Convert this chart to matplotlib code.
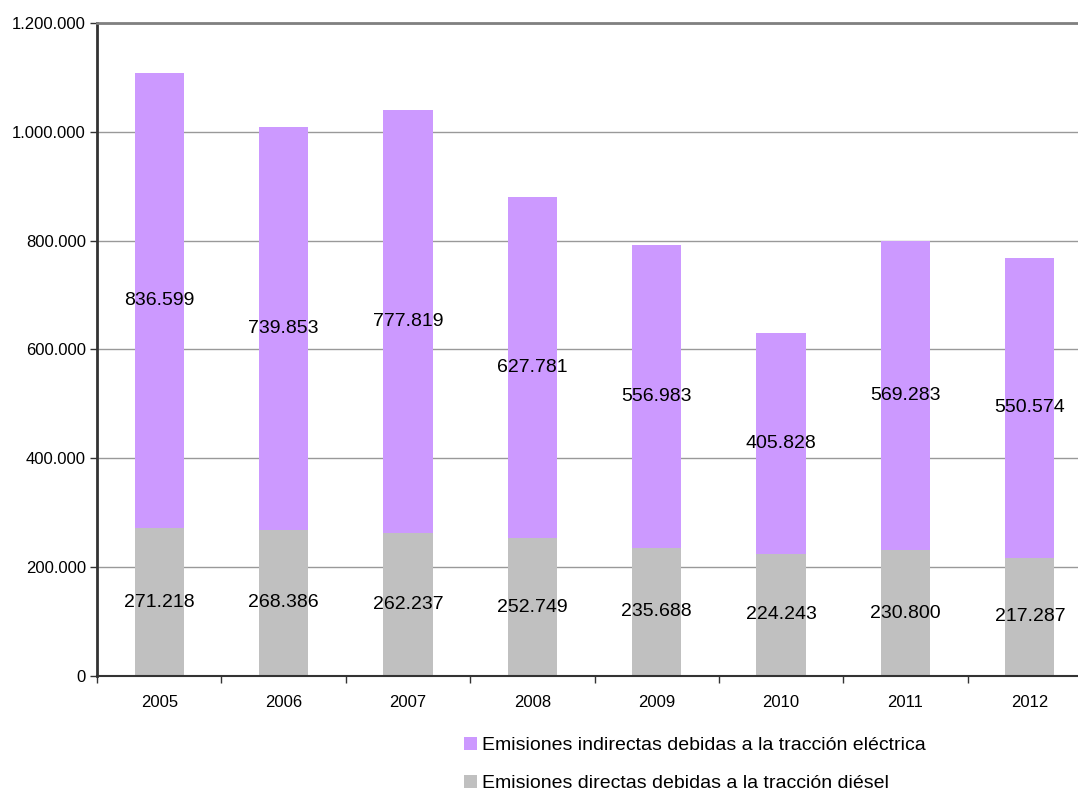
import matplotlib
matplotlib.use("Agg")
import matplotlib.pyplot as plt
from matplotlib.ticker import FuncFormatter, FixedLocator
import numpy as np

plt.rcParams['font.family'] = ['Liberation Sans', 'DejaVu Sans']

years = ['2005', '2006', '2007', '2008', '2009', '2010', '2011', '2012']
directas = [271218, 268386, 262237, 252749, 235688, 224243, 230800, 217287]
indirectas = [836599, 739853, 777819, 627781, 556983, 405828, 569283, 550574]

label_indirectas = 'Emisiones indirectas debidas a la tracción eléctrica'
label_directas = 'Emisiones directas debidas a la tracción diésel'

color_indirectas = '#CC99FF'
color_directas = '#C0C0C0'

W, H = 1078, 791
fig = plt.figure(figsize=(W / 100, H / 100), dpi=100)
ax = fig.add_axes([97 / W, 115 / H, 995 / W, 653 / H])

x = np.arange(len(years))
bw = 0.395
b1 = ax.bar(x, directas, width=bw, color=color_directas, label=label_directas, zorder=2)
b2 = ax.bar(x, indirectas, width=bw, bottom=directas, color=color_indirectas,
            label=label_indirectas, zorder=2)

def fmt(v):
    return f"{v:,.0f}".replace(',', '.')

for xi, d, i in zip(x, directas, indirectas):
    ax.text(xi, d / 2, fmt(d), ha='center', va='center', fontsize=14, zorder=3)
    ax.text(xi, d + i / 2, fmt(i), ha='center', va='center', fontsize=14, zorder=3)

ax.set_xlim(-0.5, len(years) - 0.5)
ax.set_ylim(0, 1200000)
ax.set_yticks(np.arange(0, 1200001, 200000))
ax.yaxis.set_major_formatter(FuncFormatter(lambda v, p: fmt(v)))
ax.set_xticks(x)
ax.set_xticklabels(years)
ax.xaxis.set_minor_locator(FixedLocator(np.arange(-0.5, len(years), 1.0)))
ax.tick_params(axis='x', which='major', length=0, pad=14, labelsize=12)
ax.tick_params(axis='x', which='minor', length=5, width=1, color='#333333', direction='out')
ax.tick_params(axis='y', which='major', length=5, width=1, color='#333333', pad=3, labelsize=12)

ax.grid(axis='y', color='#999999', linewidth=1, zorder=0)
ax.set_axisbelow(True)
ax.spines['right'].set_visible(False)
ax.spines['top'].set_color('#808080')
ax.spines['top'].set_linewidth(2)
ax.spines['left'].set_color('#333333')
ax.spines['left'].set_linewidth(2)
ax.spines['bottom'].set_color('#333333')
ax.spines['bottom'].set_linewidth(1.5)

leg = fig.legend([b2, b1], [label_indirectas, label_directas],
                 loc='upper left', bbox_to_anchor=(464 / W, 1 - 737 / H),
                 frameon=False, fontsize=14, handlelength=0.65, handleheight=0.65,
                 handletextpad=0.3, labelspacing=1.05, borderpad=0, borderaxespad=0)

fig.savefig('out.png', dpi=100)
